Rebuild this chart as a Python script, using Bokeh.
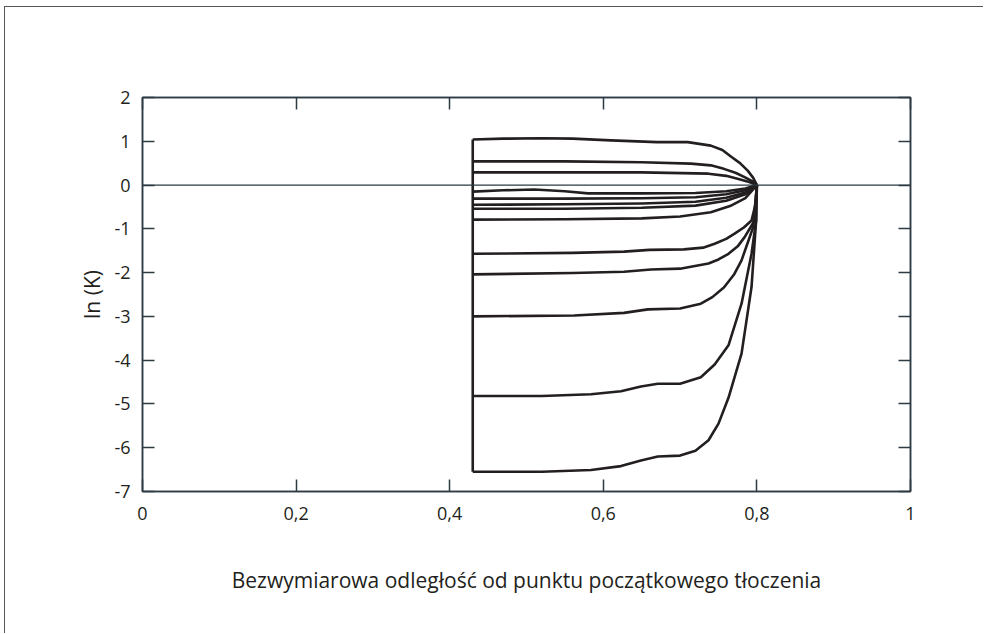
from bokeh.plotting import figure
from bokeh.models import Range1d, LinearAxis, FixedTicker, Span
from bokeh.embed import file_html
from bokeh.resources import INLINE

# ---- data ----
x_ticks = [0, 0.2, 0.4, 0.6, 0.8, 1.0]
x_tick_labels = ["0", "0,2", "0,4", "0,6", "0,8", "1"]
y_ticks = [-7, -6, -5, -4, -3, -2, -1, 0, 1, 2]
y_tick_labels = ["-7", "-6", "-5", "-4", "-3", "-2", "-1", "0", "1", "2"]

c1_x = [0.43, 0.47, 0.52, 0.56, 0.61, 0.67, 0.71, 0.74, 0.755, 0.767, 0.778, 0.788, 0.795, 0.80]
c1_y = [1.04, 1.06, 1.07, 1.06, 1.02, 0.98, 0.98, 0.90, 0.80, 0.64, 0.50, 0.33, 0.17, 0.0]

c2_x = [0.43, 0.55, 0.65, 0.714, 0.74, 0.757, 0.772, 0.784, 0.795, 0.80]
c2_y = [0.54, 0.54, 0.52, 0.49, 0.45, 0.37, 0.28, 0.18, 0.08, 0.0]

c3_x = [0.43, 0.55, 0.65, 0.737, 0.76, 0.776, 0.79, 0.80]
c3_y = [0.29, 0.29, 0.29, 0.26, 0.21, 0.14, 0.07, 0.0]

c4_x = [0.43, 0.47, 0.51, 0.55, 0.58, 0.65, 0.72, 0.76, 0.785, 0.80]
c4_y = [-0.15, -0.12, -0.10, -0.14, -0.19, -0.19, -0.18, -0.14, -0.08, 0.0]

c5_x = [0.43, 0.55, 0.65, 0.72, 0.76, 0.785, 0.80]
c5_y = [-0.31, -0.31, -0.30, -0.28, -0.21, -0.12, 0.0]

c6_x = [0.43, 0.55, 0.65, 0.72, 0.76, 0.785, 0.80]
c6_y = [-0.45, -0.44, -0.42, -0.38, -0.29, -0.17, 0.0]

c7_x = [0.43, 0.55, 0.65, 0.72, 0.76, 0.785, 0.80]
c7_y = [-0.54, -0.54, -0.52, -0.47, -0.36, -0.21, 0.0]

c8_x = [0.43, 0.55, 0.65, 0.70, 0.74, 0.765, 0.785, 0.80]
c8_y = [-0.79, -0.78, -0.76, -0.72, -0.62, -0.48, -0.30, 0.0]

c9_x = [0.43, 0.56, 0.627, 0.66, 0.705, 0.73, 0.745, 0.76, 0.771, 0.783, 0.793, 0.798, 0.80]
c9_y = [-1.57, -1.55, -1.52, -1.48, -1.47, -1.43, -1.34, -1.23, -1.11, -0.97, -0.81, -0.45, 0.0]

c10_x = [0.43, 0.56, 0.627, 0.662, 0.70, 0.737, 0.75, 0.763, 0.775, 0.784, 0.797, 0.80]
c10_y = [-2.04, -2.01, -1.98, -1.93, -1.91, -1.79, -1.70, -1.57, -1.40, -1.19, -0.81, 0.0]

c11_x = [0.43, 0.562, 0.627, 0.658, 0.70, 0.727, 0.742, 0.757, 0.77, 0.78, 0.795, 0.80]
c11_y = [-3.0, -2.98, -2.92, -2.84, -2.82, -2.71, -2.56, -2.34, -2.05, -1.72, -0.97, 0.0]

c12_x = [0.43, 0.52, 0.584, 0.623, 0.649, 0.671, 0.70, 0.727, 0.745, 0.763, 0.78, 0.793, 0.799, 0.80]
c12_y = [-4.82, -4.82, -4.78, -4.71, -4.60, -4.54, -4.54, -4.39, -4.10, -3.66, -2.71, -1.57, -0.81, 0.0]

c13_x = [0.43, 0.52, 0.584, 0.623, 0.649, 0.671, 0.70, 0.72, 0.737, 0.75, 0.763, 0.78, 0.793, 0.799, 0.80]
c13_y = [-6.55, -6.55, -6.51, -6.42, -6.29, -6.20, -6.18, -6.07, -5.83, -5.45, -4.86, -3.85, -2.33, -0.81, 0.0]

curves = [(c1_x, c1_y), (c2_x, c2_y), (c3_x, c3_y), (c4_x, c4_y), (c5_x, c5_y),
          (c6_x, c6_y), (c7_x, c7_y), (c8_x, c8_y), (c9_x, c9_y), (c10_x, c10_y),
          (c11_x, c11_y), (c12_x, c12_y), (c13_x, c13_y)]

x_title = "Bezwymiarowa odległość od punktu początkowego tłoczenia"
y_title = "ln (K)"

# ---- styling ----
FONT = "Open Sans"
AXIS_COLOR = "#2d3b43"
TEXT_COLOR = "#231f20"
LINE_COLOR = "#231f20"

p = figure(width=983, height=627, output_backend="svg", toolbar_location=None,
           x_range=Range1d(0, 1), y_range=Range1d(-7, 2),
           min_border_left=137, min_border_right=78, min_border_top=90, min_border_bottom=143,
           x_axis_label=x_title, y_axis_label=y_title,
           styles={"position": "relative", "left": "5px", "top": "7px",
                   "box-shadow": "-1px -1px 0px 0px #555555",
                   "clip-path": "inset(-8px 5px -8px -8px)"})
p.grid.visible = False
p.background_fill_color = "white"
p.border_fill_color = "white"
p.outline_line_color = AXIS_COLOR
p.outline_line_width = 1.5


def style_axis(ax, labels=True):
    ax.axis_line_color = AXIS_COLOR
    ax.axis_line_width = 1.5
    ax.major_tick_line_color = AXIS_COLOR
    ax.major_tick_line_width = 1.5
    ax.major_tick_in = 12
    ax.major_tick_out = 0
    ax.minor_tick_line_color = None
    ax.major_label_text_font = FONT
    ax.major_label_text_font_size = "18px"
    ax.major_label_text_color = TEXT_COLOR
    ax.axis_label_text_font = FONT
    ax.axis_label_text_font_size = "21px"
    ax.axis_label_text_font_style = "normal"
    ax.axis_label_text_color = TEXT_COLOR
    if not labels:
        ax.major_label_text_font_size = "0px"
        ax.major_label_text_color = None


xa = p.xaxis[0]
ya = p.yaxis[0]
style_axis(xa)
style_axis(ya)
xa.ticker = FixedTicker(ticks=x_ticks)
xa.major_label_overrides = {t: l for t, l in zip(x_ticks, x_tick_labels)}
xa.major_label_standoff = 15
xa.axis_label_standoff = 43
ya.ticker = FixedTicker(ticks=y_ticks)
ya.major_label_overrides = {t: l for t, l in zip(y_ticks, y_tick_labels)}
ya.major_label_standoff = 12
ya.axis_label_standoff = 5

top = LinearAxis(ticker=FixedTicker(ticks=x_ticks))
style_axis(top, labels=False)
p.add_layout(top, "above")
right = LinearAxis(ticker=FixedTicker(ticks=y_ticks))
style_axis(right, labels=False)
p.add_layout(right, "right")

p.add_layout(Span(location=0, dimension="width", line_color=AXIS_COLOR, line_width=1.2))

# vertical start line joining the curve starts
starts_x = [cx[0] for cx, cy in curves]
starts_y = [cy[0] for cx, cy in curves]
p.line([starts_x[0], starts_x[0]], [min(starts_y), max(starts_y)],
       line_color=LINE_COLOR, line_width=2.6)

for cx, cy in curves:
    p.line(cx, cy, line_color=LINE_COLOR, line_width=2.6, line_join="round")

open("out.html", "w").write(file_html(p, INLINE))
